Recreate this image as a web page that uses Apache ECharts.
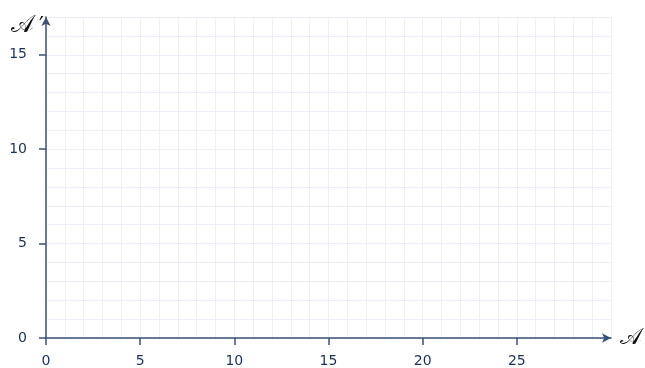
<!DOCTYPE html>
<html>
<head>
<meta charset="utf-8">
<script src="https://cdn.jsdelivr.net/npm/echarts@6/dist/echarts.min.js"></script>
<style>html,body{margin:0;padding:0;background:#fff}#c{width:645px;height:368px}</style>
</head>
<body>
<div id="c"></div>
<script>
const xName = "𝒜";
const yName = "𝒜";
const yNameMark = "′";
const xRange = [0, 30];
const yRange = [0, 17];
const xTickValues = [0, 5, 10, 15, 20, 25];
const yTickValues = [0, 5, 10, 15];

const axisColor = '#3a5073';
const labelColor = '#1c3153';
const gridColor = '#efedfb';

const chart = echarts.init(document.getElementById('c'), null, {renderer: 'canvas'});
function gridAxis(range, isX) {
  return {
    type: 'value', min: range[0], max: range[1], interval: 1,
    position: isX ? 'bottom' : 'left',
    axisLine: {show: false}, axisTick: {show: false}, axisLabel: {show: false},
    splitLine: {show: true, lineStyle: {color: gridColor, width: 1}}
  };
}
function mainAxis(range, ticks, isX) {
  return {
    type: 'value',
    min: range[0],
    max: range[1],
    interval: 1,
    position: isX ? 'bottom' : 'left',
    offset: 0,
    name: isX ? xName : '{a|' + yName + '}{p|' + yNameMark + '}',
    nameLocation: 'end',
    nameGap: isX ? 9 : -9,
    nameTextStyle: isX
      ? {fontFamily: 'DejaVu Serif', fontSize: 23, color: '#111', align: 'left', verticalAlign: 'middle'}
      : {align: 'right', verticalAlign: 'middle', padding: [0, 2, 0, 0],
         rich: {a: {fontFamily: 'DejaVu Serif', fontSize: 24, color: '#111'},
                p: {fontFamily: 'DejaVu Sans', fontSize: 22, color: '#111', padding: [0, 0, 0, 5]}}},
    axisLine: {show: true, onZero: false, lineStyle: {color: axisColor, width: 1.5}, symbol: ['none', 'arrow'], symbolSize: [7, 9]},
    axisTick: {show: true, length: 7, customValues: ticks, lineStyle: {color: axisColor, width: 1.5}},
    axisLabel: {show: true, customValues: ticks, margin: isX ? 16 : 19, color: labelColor, fontFamily: 'DejaVu Sans', fontSize: 14},
    splitLine: {show: false}
  };
}
chart.setOption({
  animation: false,
  grid: {left: 46, right: 32, top: 17, bottom: 29, containLabel: false},
  xAxis: [gridAxis(xRange, true), mainAxis(xRange, xTickValues, true)],
  yAxis: [gridAxis(yRange, false), mainAxis(yRange, yTickValues, false)],
  series: []
});
</script>
</body>
</html>
